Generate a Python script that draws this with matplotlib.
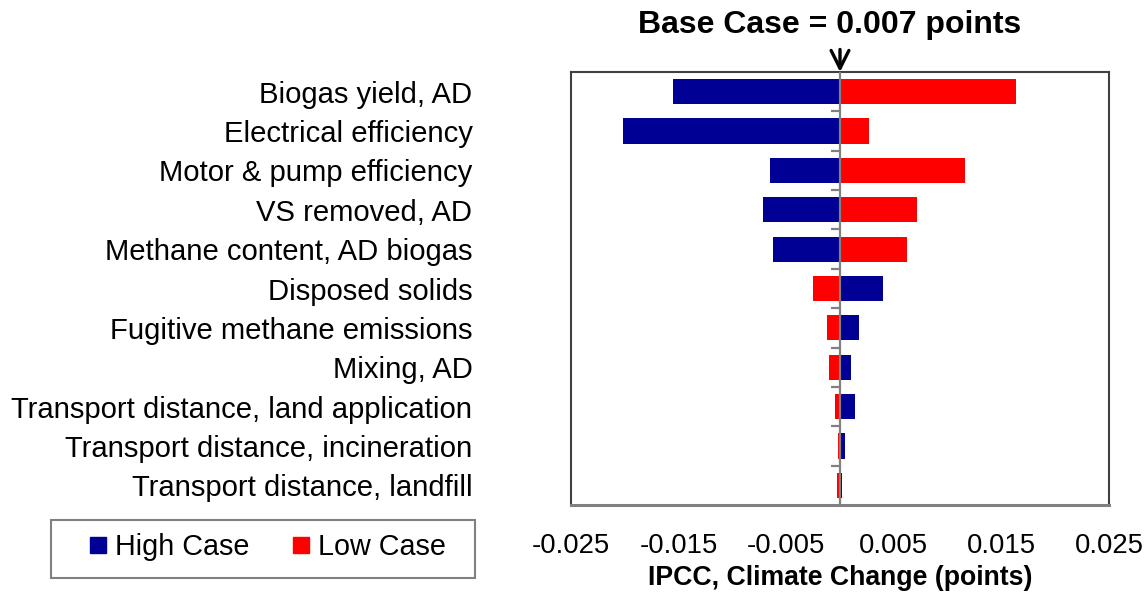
import matplotlib
matplotlib.use("Agg")
import matplotlib.pyplot as plt
from matplotlib.lines import Line2D
from matplotlib.patches import Rectangle

plt.rcParams['font.family'] = ['Liberation Sans', 'DejaVu Sans']

# データ
categories = [
    "Biogas yield, AD",
    "Electrical efficiency",
    "Motor & pump efficiency",
    "VS removed, AD",
    "Methane content, AD biogas",
    "Disposed solids",
    "Fugitive methane emissions",
    "Mixing, AD",
    "Transport distance, land application",
    "Transport distance, incineration",
    "Transport distance, landfill",
]
high_case = [-0.0155, -0.0202, -0.0065, -0.0072, -0.0062, 0.0040, 0.00175, 0.00105, 0.0014, 0.00043, 0.00015]
low_case = [0.0164, 0.0027, 0.0116, 0.0072, 0.0062, -0.0025, -0.00118, -0.00104, -0.00048, -0.0002, -0.00024]
xtick_values = [-0.025, -0.015, -0.005, 0.005, 0.015, 0.025]
xtick_labels = ["-0.025", "-0.015", "-0.005", "0.005", "0.015", "0.025"]

blue = "#000094"
red = "#FF0000"

fig = plt.figure(figsize=(11.46, 5.92), dpi=100)
ax = fig.add_axes([571 / 1146, 1 - 505 / 592, 538 / 1146, 433 / 592])

pos = list(range(len(categories)))
ax.barh(pos, high_case, height=0.64, color=blue, zorder=2)
ax.barh(pos, low_case, height=0.64, color=red, zorder=2)

ax.set_xlim(-0.025, 0.025)
ax.set_ylim(len(categories) - 0.5, -0.5)

# 中心線と区切り目盛り
ax.axvline(0, color="#808080", lw=1.6, zorder=3)
bounds = [i + 0.5 for i in range(len(categories) - 1)]
ax.hlines(bounds, -0.0008, 0, color="#808080", lw=1.6, zorder=3)

ax.set_yticks(pos)
ax.set_yticklabels(categories, fontsize=21.1)
ax.tick_params(axis="y", length=0, pad=71)
ax.set_xticks(xtick_values)
ax.set_xticklabels(xtick_labels, fontsize=19.8)
ax.tick_params(axis="x", length=0, pad=20)

for s in ["top", "left", "right"]:
    ax.spines[s].set_color("#404040")
    ax.spines[s].set_linewidth(1.5)
ax.spines["bottom"].set_color("#808080")
ax.spines["bottom"].set_linewidth(2.2)

ax.set_xlabel("IPCC, Climate Change (points)", fontsize=19.2, fontweight="bold")
ax.xaxis.set_label_coords(0.5, -(565 - 505) / 433)

# タイトルと矢印
fig.text(830 / 1146, 1 - 25 / 592, "Base Case = 0.007 points", fontsize=23, fontweight="bold",
         ha="center", va="center")
ax.annotate("", xy=(0, 1.0), xycoords=("data", "axes fraction"),
            xytext=(0, 1.052), textcoords=("data", "axes fraction"),
            arrowprops=dict(arrowstyle="->", lw=2.4, color="black", mutation_scale=32,
                            shrinkA=0, shrinkB=0))

# 凡例
handles = [
    Line2D([], [], marker="s", linestyle="none", markersize=11, color=blue, label="High Case"),
    Line2D([], [], marker="s", linestyle="none", markersize=11, color=red, label="Low Case"),
]
fig.legend(handles=handles, loc="center", bbox_to_anchor=(267 / 1146, 1 - 547 / 592),
           ncol=2, fontsize=20.7, frameon=False, handlelength=0.7,
           handletextpad=0.25, columnspacing=1.45)
fig.patches.append(Rectangle((51 / 1146, 1 - 578 / 592), 424 / 1146, 58 / 592,
                             transform=fig.transFigure, fill=False,
                             edgecolor="#808080", linewidth=1.5))

plt.savefig("out.png", dpi=100)
